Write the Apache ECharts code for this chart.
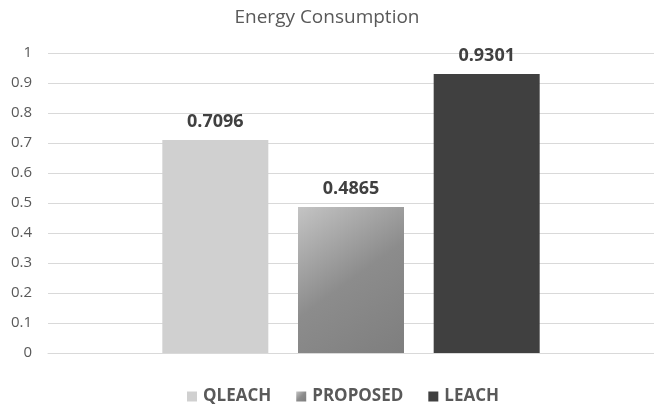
<!DOCTYPE html>
<html>
<head>
<meta charset="utf-8">
<style>
  html, body { margin: 0; padding: 0; background: #ffffff; }
  #chart { width: 654px; height: 408px; }
</style>
<script src="https://cdn.jsdelivr.net/npm/echarts@6/dist/echarts.min.js"></script>
</head>
<body>
<div id="chart"></div>
<script>
// Energy consumption per protocol
const categories = [''];
const seriesNames = ['QLEACH', 'PROPOSED', 'LEACH'];
const qleachValues = [0.7096];
const proposedValues = [0.4865];
const leachValues = [0.9301];
const yTicks = [0, 0.1, 0.2, 0.3, 0.4, 0.5, 0.6, 0.7, 0.8, 0.9, 1];

const FONT = '"Open Sans", "Liberation Sans", sans-serif';
const chart = echarts.init(document.getElementById('chart'), null, { renderer: 'canvas' });

const proposedFill = new echarts.graphic.LinearGradient(0, 0, 1, 1, [
  { offset: 0, color: '#c4c4c4' },
  { offset: 0.5, color: '#8c8c8c' },
  { offset: 1, color: '#7e7e7e' }
]);

const labelStyle = {
  show: true,
  position: 'top',
  distance: 9,
  fontFamily: FONT,
  fontWeight: 'bold',
  fontSize: 18,
  color: '#404040',
  formatter: p => p.value.toFixed(4)
};

function barSeries(name, data, color) {
  return {
    name: name,
    type: 'bar',
    data: data,
    barWidth: 106,
    barGap: '28%',
    itemStyle: { color: color },
    label: labelStyle
  };
}

chart.setOption({
  animation: false,
  title: {
    text: 'Energy Consumption',
    left: 'center',
    top: 3,
    textStyle: { fontFamily: FONT, fontSize: 19, fontWeight: 'normal', color: '#595959' }
  },
  legend: {
    data: seriesNames,
    top: 388,
    left: 187,
    padding: 0,
    itemWidth: 10,
    itemHeight: 10,
    itemGap: 25,
    icon: 'rect',
    textStyle: { fontFamily: FONT, fontSize: 17, fontWeight: 'bold', color: '#595959', padding: [0, 0, 0, 1] }
  },
  grid: { left: 48, width: 610, top: 53, bottom: 55, containLabel: false },
  xAxis: {
    type: 'category',
    data: categories,
    axisLine: { show: true, lineStyle: { color: '#d9d9d9', width: 1 } },
    axisTick: { show: false },
    axisLabel: { show: false }
  },
  yAxis: {
    type: 'value',
    min: yTicks[0],
    max: yTicks[yTicks.length - 1],
    interval: 0.1,
    axisLine: { show: false },
    axisTick: { show: false },
    axisLabel: {
      margin: 16,
      fontFamily: FONT,
      fontSize: 15,
      color: '#595959',
      formatter: v => String(Math.round(v * 10) / 10)
    },
    splitLine: { lineStyle: { color: '#d9d9d9', width: 1 } }
  },
  series: [
    barSeries(seriesNames[0], qleachValues, '#d0d0d0'),
    barSeries(seriesNames[1], proposedValues, proposedFill),
    barSeries(seriesNames[2], leachValues, '#404040')
  ]
});
</script>
</body>
</html>
